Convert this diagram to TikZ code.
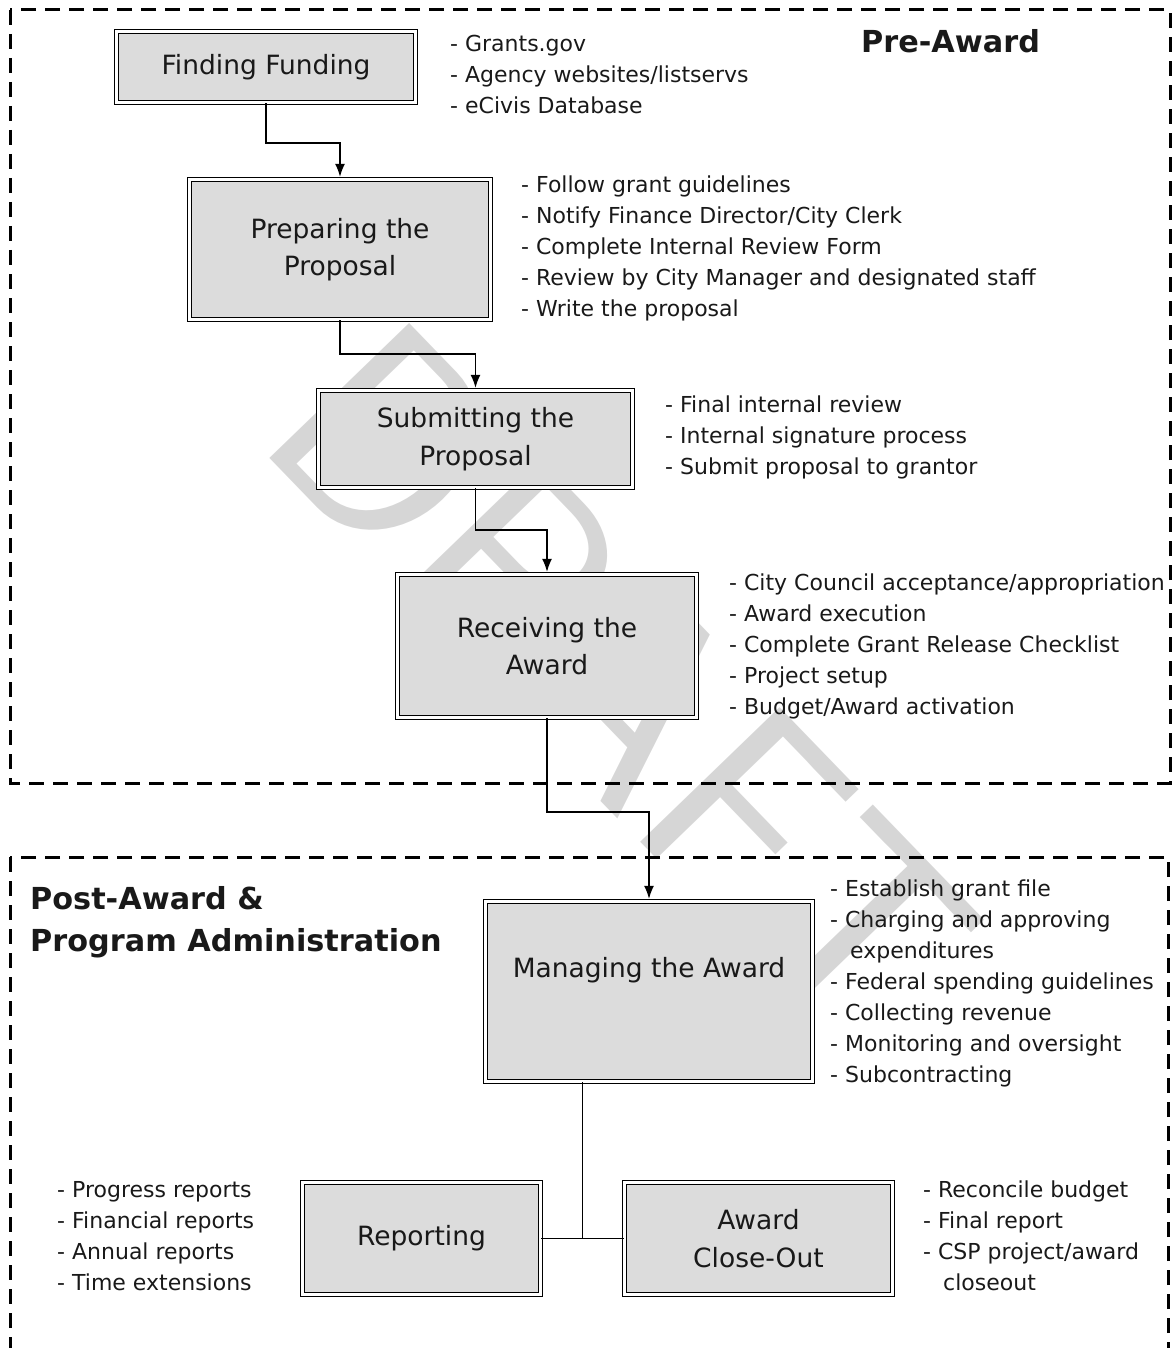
\documentclass[tikz,border=0pt]{standalone}
\usepackage{fontspec}
\setmainfont{DejaVu Sans}
\usepackage{tikz}
\usetikzlibrary{arrows.meta,positioning,calc}

\definecolor{boxfill}{RGB}{220,220,220}
\definecolor{markgray}{RGB}{214,214,214}
\definecolor{inkgray}{RGB}{25,25,25}
\newcommand\notefont{\fontsize{22}{31}\selectfont}
\newcommand\stagefont{\fontsize{26.5}{37.5}\selectfont}
\newcommand\titlefont{\fontsize{30.3}{42}\selectfont\bfseries}

\tikzset{
  stage/.style={draw, line width=1.3pt, double=white, double distance=2.4pt, fill=boxfill,
    align=center, font=\stagefont, text=inkgray, inner sep=0pt},
  notes/.style={anchor=north west, align=left, inner sep=0pt, font=\notefont, text=inkgray},
  zone/.style={line width=3pt, dash pattern=on 15pt off 9pt},
  link/.style={line width=1.4pt},
}

\begin{document}
\begin{tikzpicture}[x=1pt, y=-1pt, >={Latex[length=13pt,width=10pt]}]
\useasboundingbox (0,0) rectangle (1172,1348);
\clip (0,0) rectangle (1172,1348);

% watermark
\node[rotate=-46, anchor=base west, inner sep=0pt, text=markgray,
  font=\fontsize{280}{280}\selectfont\sffamily] (mark) at (252,440) {DRAFT};

% dashed frames
\draw[zone] (10,10) rectangle (1170,783);
\draw[zone] (10,857) rectangle (1168,1380);

% stages
\node[stage, minimum width=299pt, minimum height=71pt] (fund) at (266,67) {Finding Funding};
\node[stage, minimum width=301pt, minimum height=140pt] (prep) at (340,249.5) {Preparing the\\Proposal};
\node[stage, minimum width=314pt, minimum height=97pt] (sub) at (475.5,439) {Submitting the\\Proposal};
\node[stage, minimum width=299pt, minimum height=143pt] (recv) at (547,646) {Receiving the\\Award};
\node[stage, minimum width=327pt, minimum height=180pt] (manage) at (649,991.5) {Managing the Award\\\strut};
\node[stage, minimum width=238pt, minimum height=112pt] (report) at (421.5,1238.5) {Reporting};
\node[stage, minimum width=268pt, minimum height=112pt] (close) at (758.5,1238.5) {Award\\Close-Out};

% titles
\node[anchor=base west, inner sep=0pt, font=\titlefont, text=inkgray] (pre) at (861,53) {Pre-Award};
\node[anchor=north west, align=left, inner sep=0pt, font=\titlefont, text=inkgray] (post) at (30,880)
  {\strut Post-Award \&\\Program Administration};

% notes
\node[notes] (fundnotes) at (450,30) {\strut- Grants.gov\\- Agency websites/listservs\\- eCivis Database};
\node[notes] (prepnotes) at (521,171) {\strut- Follow grant guidelines\\- Notify Finance Director/City Clerk\\- Complete Internal Review Form\\- Review by City Manager and designated staff\\- Write the proposal};
\node[notes] (subnotes) at (665,391) {\strut- Final internal review\\- Internal signature process\\- Submit proposal to grantor};
\node[notes] (recvnotes) at (729,569) {\strut- City Council acceptance/appropriation\\- Award execution\\- Complete Grant Release Checklist\\- Project setup\\- Budget/Award activation};
\node[notes] (managenotes) at (830,875) {\strut- Establish grant file\\- Charging and approving\\\hspace*{20pt}expenditures\\- Federal spending guidelines\\- Collecting revenue\\- Monitoring and oversight\\- Subcontracting};
\node[notes] (reportnotes) at (57,1176) {\strut- Progress reports\\- Financial reports\\- Annual reports\\- Time extensions};
\node[notes] (closenotes) at (923,1176) {\strut- Reconcile budget\\- Final report\\- CSP project/award\\\hspace*{20pt}closeout};

% connectors
\draw[link,->,shorten >=2pt] (fund.south) -- ++(0,40) -| (prep.north);
\draw[link,->,shorten >=2pt] (prep.south) -- ++(0,34) -| (sub.north);
\draw[link,->,shorten >=2pt] (sub.south) -- ++(0,42) -| (recv.north);
\draw[link,->,shorten >=2pt] (recv.south) -- ++(0,94) -| (manage.north);
\path (report.east) -- coordinate[midway] (junc) (close.west);
\draw[link] (report.east) -- (close.west);
\draw[link] (manage.south -| junc) -- (junc);
\end{tikzpicture}
\end{document}
